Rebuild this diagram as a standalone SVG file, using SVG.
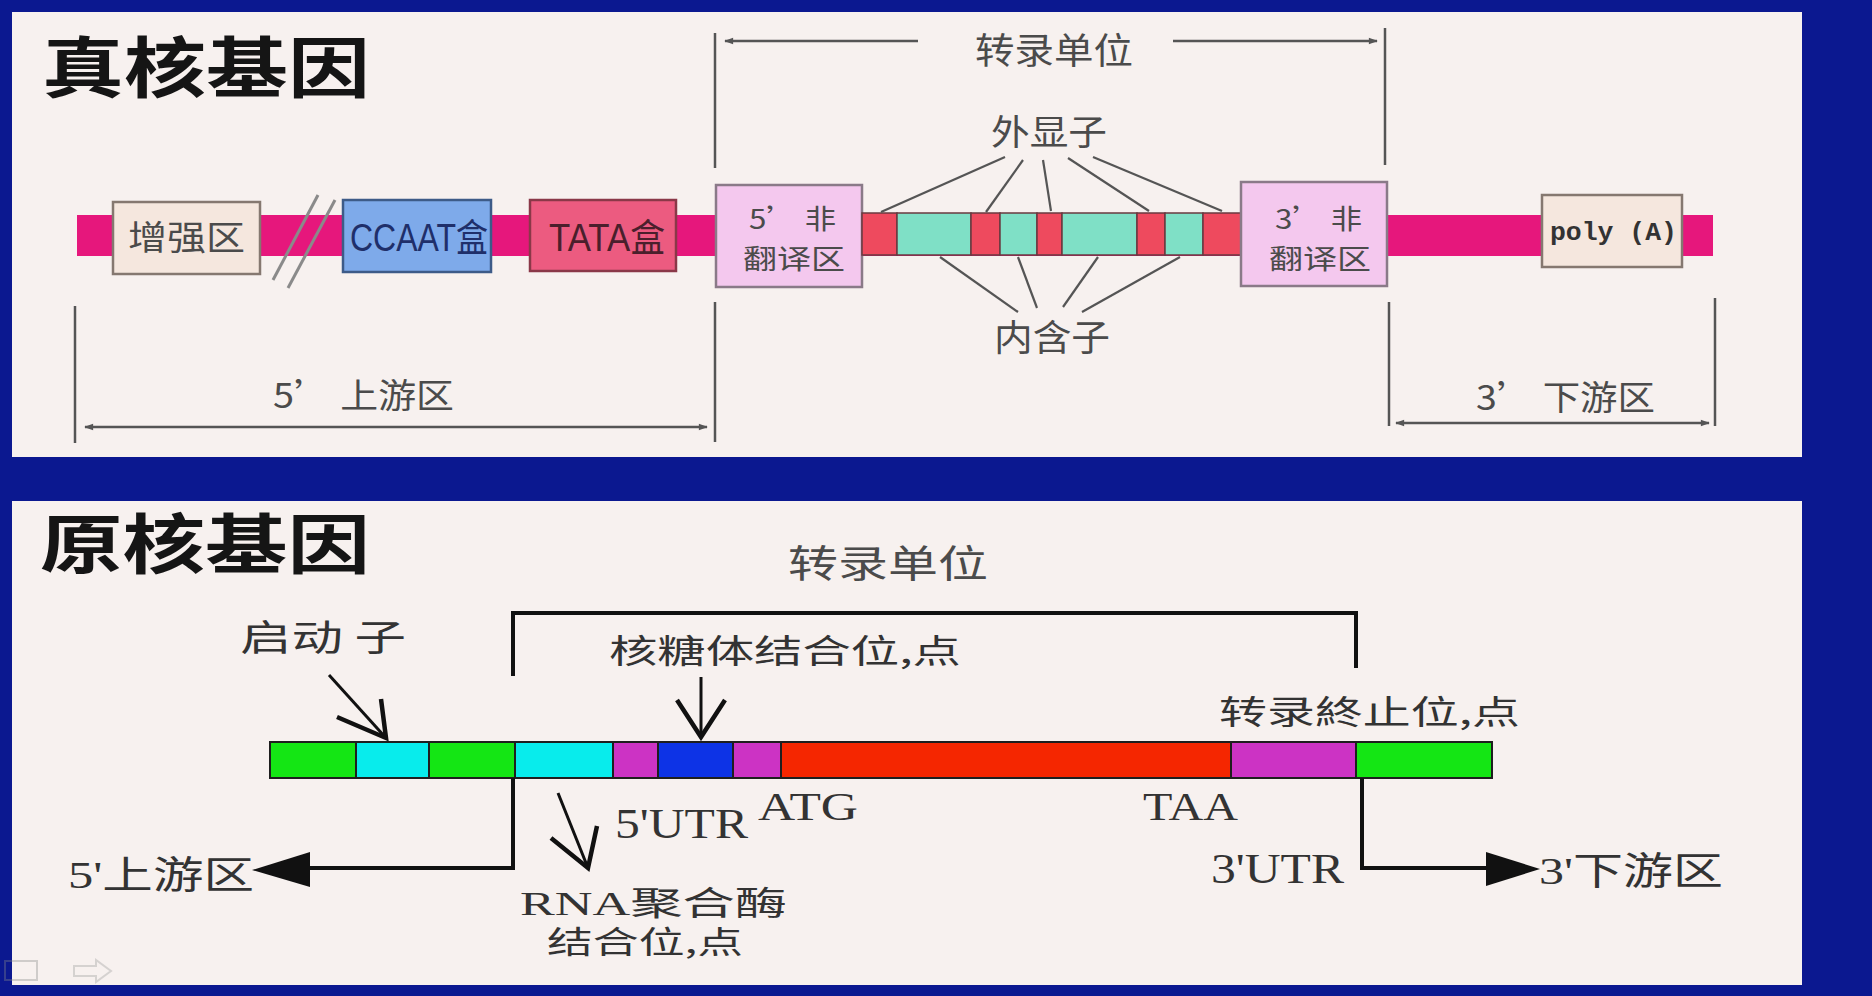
<svg xmlns="http://www.w3.org/2000/svg" width="1872" height="996" viewBox="0 0 1872 996">
<defs>
<style>
.sans{font-family:'Noto Sans CJK SC','Noto Sans',sans-serif;}
.lsans{font-family:'Liberation Sans','Noto Sans CJK SC',sans-serif;}
.serif{font-family:'Liberation Serif','Noto Sans CJK SC',serif;}
.mono{font-family:'Liberation Mono','Noto Sans CJK SC',monospace;}
.gray{fill:#4b4b4b;}
.dark{fill:#2a2a2a;}
.title{fill:#151515;font-weight:bold;}
.box{stroke-width:2.5;}
.dim{stroke:#555;stroke-width:2.5;fill:none;}
.lead{stroke:#555;stroke-width:2.2;fill:none;}
.blk{stroke:#111;stroke-width:4;fill:none;}
.seg{stroke:#1e1e1e;stroke-width:2;}
.tseg{stroke:#6a3a40;stroke-width:1.5;}
</style>
<marker id="ah" viewBox="0 0 10 10" refX="9" refY="5" markerWidth="10" markerHeight="9" markerUnits="userSpaceOnUse" orient="auto-start-reverse">
<path d="M0,1.5 L10,5 L0,8.5 z" fill="#555"/>
</marker>
</defs>

<rect x="0" y="0" width="1872" height="996" fill="#0b1890"/>
<rect x="12" y="12" width="1790" height="445" fill="#f7f1ef"/>
<rect x="12" y="501" width="1790" height="484" fill="#f7f1ef"/>

<!-- ===== Top panel: eukaryotic gene ===== -->
<g id="title-euk"><text x="42" y="92" class="sans title" font-size="66" textLength="328" lengthAdjust="spacingAndGlyphs">真核基因</text></g>

<g id="strip-top"><rect x="77" y="215" width="1636" height="41" fill="#e6177c"/></g>

<g id="enhancer">
<rect x="113" y="202" width="147" height="72" fill="#f5e7de" stroke="#857870" class="box"/>
<text x="128" y="250" class="sans gray" font-size="34" textLength="117" lengthAdjust="spacingAndGlyphs">增强区</text>
</g>

<g id="break">
<line x1="318" y1="195" x2="273" y2="280" stroke="#8a8a8a" stroke-width="3"/>
<line x1="335" y1="200" x2="288" y2="288" stroke="#8a8a8a" stroke-width="3"/>
</g>

<g id="ccaat">
<rect x="343" y="200" width="148" height="72" fill="#7eaaea" stroke="#3d5b88" class="box"/>
<text x="350" y="251" class="lsans" fill="#1f2f6a" font-size="38" textLength="138" lengthAdjust="spacingAndGlyphs">CCAAT盒</text>
</g>

<g id="tata">
<rect x="530" y="200" width="146" height="71" fill="#ec5b80" stroke="#8a3848" class="box"/>
<text x="549" y="251" class="lsans" fill="#4a1f2c" font-size="38" textLength="116" lengthAdjust="spacingAndGlyphs">TATA盒</text>
</g>

<g id="utr5">
<rect x="716" y="185" width="146" height="102" fill="#f4c8ee" stroke="#8a7a88" class="box"/>
<text x="749" y="229" class="sans gray" font-size="27" textLength="87" lengthAdjust="spacingAndGlyphs">5’ 非</text>
<text x="743" y="269" class="sans gray" font-size="27" textLength="102" lengthAdjust="spacingAndGlyphs">翻译区</text>
</g>

<g id="exons-introns">
<rect x="862" y="213" width="35" height="42" fill="#ee4a5e" class="tseg"/>
<rect x="897" y="213" width="74" height="42" fill="#7fe0c6" class="tseg"/>
<rect x="971" y="213" width="29" height="42" fill="#ee4a5e" class="tseg"/>
<rect x="1000" y="213" width="37" height="42" fill="#7fe0c6" class="tseg"/>
<rect x="1037" y="213" width="25" height="42" fill="#ee4a5e" class="tseg"/>
<rect x="1062" y="213" width="75" height="42" fill="#7fe0c6" class="tseg"/>
<rect x="1137" y="213" width="28" height="42" fill="#ee4a5e" class="tseg"/>
<rect x="1165" y="213" width="38" height="42" fill="#7fe0c6" class="tseg"/>
<rect x="1203" y="213" width="39" height="42" fill="#ee4a5e" class="tseg"/>
</g>

<g id="utr3">
<rect x="1241" y="182" width="146" height="104" fill="#f4c8ee" stroke="#8a7a88" class="box"/>
<text x="1275" y="229" class="sans gray" font-size="27" textLength="87" lengthAdjust="spacingAndGlyphs">3’ 非</text>
<text x="1269" y="269" class="sans gray" font-size="27" textLength="102" lengthAdjust="spacingAndGlyphs">翻译区</text>
</g>

<g id="polya">
<rect x="1542" y="195" width="140" height="72" fill="#f5e7de" stroke="#857870" class="box"/>
<text x="1550" y="240" class="mono" fill="#333" font-weight="bold" font-size="26" textLength="127" lengthAdjust="spacingAndGlyphs">poly (A)</text>
</g>

<g id="label-exon"><text x="991" y="145" class="sans gray" font-size="35" textLength="116" lengthAdjust="spacingAndGlyphs">外显子</text></g>
<g id="label-intron"><text x="994" y="351" class="sans gray" font-size="36" textLength="116" lengthAdjust="spacingAndGlyphs">内含子</text></g>
<g id="label-tu-top"><text x="975" y="64" class="sans gray" font-size="36" textLength="158" lengthAdjust="spacingAndGlyphs">转录单位</text></g>
<g id="label-up5-top"><text x="273" y="408" class="sans gray" font-size="34" textLength="181" lengthAdjust="spacingAndGlyphs">5’ 上游区</text></g>
<g id="label-down3-top"><text x="1476" y="410" class="sans gray" font-size="34" textLength="179" lengthAdjust="spacingAndGlyphs">3’ 下游区</text></g>

<!-- ===== Bottom panel: prokaryotic gene ===== -->
<g id="title-pro"><text x="40" y="568" class="sans title" font-size="65" textLength="330" lengthAdjust="spacingAndGlyphs">原核基因</text></g>
<g id="label-tu-bot"><text x="788" y="577" class="sans gray" font-size="38" textLength="200" lengthAdjust="spacingAndGlyphs">转录单位</text></g>
<g id="label-promoter"><text x="240" y="651" class="sans" fill="#333" font-size="36" textLength="166" lengthAdjust="spacingAndGlyphs">启动 子</text></g>
<g id="label-rbs"><text x="609" y="663" class="sans" fill="#333" font-size="33" textLength="352" lengthAdjust="spacingAndGlyphs">核糖体结合位,点</text></g>
<g id="label-term"><text x="1219" y="724" class="sans" fill="#333" font-size="33" textLength="301" lengthAdjust="spacingAndGlyphs">转录終止位,点</text></g>

<g id="strip-bottom">
<rect x="270" y="742" width="86" height="36" fill="#14e614" class="seg"/>
<rect x="356" y="742" width="73" height="36" fill="#08ecec" class="seg"/>
<rect x="429" y="742" width="86" height="36" fill="#14e614" class="seg"/>
<rect x="515" y="742" width="98" height="36" fill="#08ecec" class="seg"/>
<rect x="613" y="742" width="45" height="36" fill="#cc33c4" class="seg"/>
<rect x="658" y="742" width="75" height="36" fill="#0d33e6" class="seg"/>
<rect x="733" y="742" width="48" height="36" fill="#cc33c4" class="seg"/>
<rect x="781" y="742" width="450" height="36" fill="#f52600" class="seg"/>
<rect x="1231" y="742" width="125" height="36" fill="#cc33c4" class="seg"/>
<rect x="1356" y="742" width="136" height="36" fill="#14e614" class="seg"/>
</g>

<g id="label-utr5"><text x="615" y="838" class="serif" fill="#333" font-size="42" textLength="133" lengthAdjust="spacingAndGlyphs">5'UTR</text></g>
<g id="label-atg"><text x="758" y="820" class="serif" fill="#333" font-size="40" textLength="100" lengthAdjust="spacingAndGlyphs">ATG</text></g>
<g id="label-taa"><text x="1143" y="820" class="serif" fill="#333" font-size="40" textLength="95" lengthAdjust="spacingAndGlyphs">TAA</text></g>
<g id="label-utr3"><text x="1211" y="883" class="serif" fill="#333" font-size="42" textLength="133" lengthAdjust="spacingAndGlyphs">3'UTR</text></g>
<g id="label-up5-bot"><text x="68" y="888" class="serif" fill="#333" font-size="38" textLength="186" lengthAdjust="spacingAndGlyphs">5'<tspan class="sans">上游区</tspan></text></g>
<g id="label-down3-bot"><text x="1539" y="884" class="serif" fill="#333" font-size="38" textLength="184" lengthAdjust="spacingAndGlyphs">3'<tspan class="sans">下游区</tspan></text></g>
<g id="label-rnap">
<text x="520" y="915" class="serif" fill="#333" font-size="33" textLength="267" lengthAdjust="spacingAndGlyphs">RNA<tspan class="sans">聚合酶</tspan></text>
<text x="547" y="953" class="sans" fill="#333" font-size="31" textLength="196" lengthAdjust="spacingAndGlyphs">结合位,点</text>
</g>

<g id="nav-icons" opacity="0.35">
<rect x="5" y="961" width="32" height="19" fill="none" stroke="#888" stroke-width="2"/>
<path d="M74,966 L96,966 L96,960 L111,971 L96,982 L96,976 L74,976 z" fill="none" stroke="#999" stroke-width="2"/>
</g>

<!-- ===== Connectors ===== -->
<g id="connectors">
<!-- top: transcription unit -->
<line x1="715" y1="33" x2="715" y2="168" class="dim"/>
<line x1="1385" y1="28" x2="1385" y2="165" class="dim"/>
<path d="M918,41 L725,41" class="dim" marker-end="url(#ah)"/>
<path d="M1173,41 L1377,41" class="dim" marker-end="url(#ah)"/>
<!-- top: 5' upstream -->
<line x1="75" y1="306" x2="75" y2="443" class="dim"/>
<line x1="715" y1="302" x2="715" y2="442" class="dim"/>
<path d="M85,427 L707,427" class="dim" marker-start="url(#ah)" marker-end="url(#ah)"/>
<!-- top: 3' downstream -->
<line x1="1389" y1="302" x2="1389" y2="426" class="dim"/>
<line x1="1715" y1="298" x2="1715" y2="426" class="dim"/>
<path d="M1396,423 L1709,423" class="dim" marker-start="url(#ah)" marker-end="url(#ah)"/>
<!-- exon leaders -->
<line x1="1005" y1="157" x2="881" y2="212" class="lead"/>
<line x1="1023" y1="160" x2="986" y2="212" class="lead"/>
<line x1="1043" y1="160" x2="1051" y2="211" class="lead"/>
<line x1="1068" y1="158" x2="1149" y2="211" class="lead"/>
<line x1="1093" y1="157" x2="1222" y2="211" class="lead"/>
<!-- intron leaders -->
<line x1="940" y1="257" x2="1018" y2="312" class="lead"/>
<line x1="1018" y1="257" x2="1037" y2="308" class="lead"/>
<line x1="1098" y1="257" x2="1063" y2="307" class="lead"/>
<line x1="1180" y1="257" x2="1082" y2="312" class="lead"/>

<!-- bottom: transcription unit bracket -->
<path d="M513,676 L513,613 L1356,613 L1356,668" class="blk"/>
<!-- 5' upstream arrow -->
<path d="M513,778 L513,868 L305,868" class="blk"/>
<path d="M252,870 L310,852 L310,887 z" fill="#111"/>
<!-- 3' downstream arrow -->
<path d="M1362,778 L1362,868 L1488,868" class="blk"/>
<path d="M1540,869 L1486,852 L1486,886 z" fill="#111"/>
<!-- promoter arrow -->
<path d="M329,675 L386,738" stroke="#111" stroke-width="3" fill="none"/>
<path d="M337,717 L386,738 L381,699" stroke="#111" stroke-width="4.5" fill="none" stroke-linejoin="miter"/>
<!-- RBS arrow -->
<path d="M701,677 L701,737" stroke="#111" stroke-width="3" fill="none"/>
<path d="M677,700 L701,737 L725,700" stroke="#111" stroke-width="4.5" fill="none"/>
<!-- RNA polymerase arrow -->
<path d="M558,793 L588,868" stroke="#111" stroke-width="3" fill="none"/>
<path d="M551,838 L588,868 L597,826" stroke="#111" stroke-width="4.5" fill="none"/>
</g>
</svg>
